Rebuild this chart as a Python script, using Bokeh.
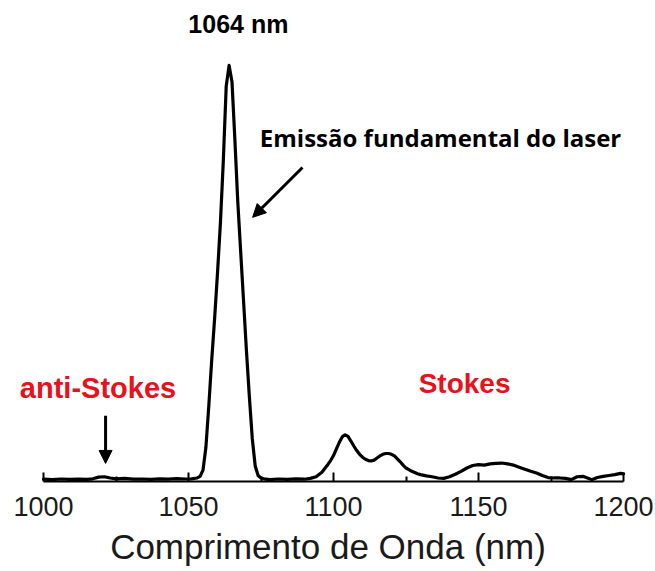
from bokeh.plotting import figure
from bokeh.models import Range1d, Label, Arrow, NormalHead, FixedTicker, ColumnDataSource
from bokeh.embed import file_html
from bokeh.resources import INLINE

# ---- data (arbitrary intensity units, peak = 100) ----
wavelength_nm = [
    1000, 1003, 1006, 1009, 1012, 1015, 1017, 1019, 1021, 1023, 1025, 1028, 1031,
    1034, 1037, 1040, 1043, 1046, 1049, 1051, 1053, 1054, 1055, 1056, 1057, 1058,
    1059, 1060, 1061, 1062, 1063, 1064, 1065, 1066, 1067, 1068, 1069, 1070, 1071,
    1072, 1073, 1074, 1075, 1076, 1078, 1081, 1084, 1087, 1090, 1092, 1094, 1096,
    1098, 1099, 1100, 1101, 1102, 1103, 1104, 1105, 1106, 1107, 1108, 1109, 1110,
    1111, 1112, 1113, 1114, 1115, 1116, 1117, 1118, 1119, 1120, 1121, 1122, 1123,
    1124, 1125, 1126, 1127, 1128, 1129, 1130, 1132, 1134, 1136, 1138, 1140, 1142,
    1144, 1146, 1148, 1150, 1152, 1154, 1156, 1158, 1160, 1162, 1164, 1166, 1168,
    1170, 1172, 1174, 1176, 1178, 1180, 1182, 1184, 1186, 1188, 1189, 1191, 1193,
    1195, 1197, 1199, 1200,
]
intensity = [
    0.3, 0.2, 0.35, 0.25, 0.3, 0.25, 0.4, 0.8, 0.9, 0.6, 0.4, 0.5, 0.3,
    0.35, 0.25, 0.4, 0.3, 0.45, 0.35, 0.4, 0.6, 1.0, 2.5, 8.0, 18.0, 29.0,
    39.0, 50.0, 62.0, 77.0, 95.0, 100.0, 96.0, 82.0, 67.0, 55.0, 43.0, 31.0, 20.0,
    10.0, 3.5, 1.2, 0.6, 0.4, 0.2, 0.35, 0.25, 0.4, 0.3, 0.5, 0.9, 2.0,
    3.8, 4.8, 6.0, 7.6, 9.2, 10.5, 11.0, 10.6, 9.5, 8.3, 7.2, 6.3, 5.6,
    5.1, 4.8, 4.7, 4.9, 5.4, 5.9, 6.3, 6.5, 6.5, 6.3, 5.9, 5.2, 4.5,
    3.7, 3.0, 2.6, 2.2, 1.9, 1.6, 1.4, 1.1, 0.9, 0.6, 0.5, 0.9, 1.5,
    2.2, 3.0, 3.6, 3.8, 3.7, 4.0, 4.1, 4.2, 4.0, 3.7, 3.2, 2.7, 2.2,
    1.8, 1.2, 0.7, 0.6, 0.6, 0.5, 0.2, 0.9, 1.0, 0.5, 0.2, 0.7, 1.0,
    1.2, 1.4, 1.7, 1.6,
]
tick_values = [1000, 1050, 1100, 1150, 1200]
minor_tick_values = [1025, 1075, 1125, 1175]
x_label = "Comprimento de Onda (nm)"
peak_label = "1064 nm"
laser_label = "Emissão fundamental do laser"
anti_label = "anti-Stokes"
stokes_label = "Stokes"

RED = "#e8121c"

p = figure(width=655, height=571, output_backend="svg", toolbar_location=None,
           x_range=Range1d(985.17, 1211.03), y_range=Range1d(-0.25, 115.65),
           min_border_left=0, min_border_right=0, min_border_top=0,
           min_border_bottom=90)
p.outline_line_color = None
p.xgrid.visible = False
p.ygrid.visible = False
p.yaxis.visible = False
p.background_fill_color = "white"
p.border_fill_color = "white"

src = ColumnDataSource(dict(x=wavelength_nm, y=intensity))
p.line("x", "y", source=src, line_color="black", line_width=3.2,
       line_join="round", line_cap="round")

ax = p.xaxis[0]
ax.bounds = (1000, 1200)
ax.ticker = FixedTicker(ticks=tick_values, minor_ticks=minor_tick_values)
ax.axis_line_width = 2
ax.axis_line_color = "black"
ax.major_tick_in = 9
ax.major_tick_out = 0
ax.minor_tick_in = 5
ax.minor_tick_out = 0
ax.major_tick_line_width = 2
ax.minor_tick_line_width = 2
ax.major_tick_line_color = "black"
ax.minor_tick_line_color = "black"
ax.major_label_text_font = "Liberation Sans"
ax.major_label_text_font_size = "27px"
ax.major_label_text_color = "#1a1a1a"
ax.major_label_standoff = 15
ax.axis_label = x_label
ax.axis_label_text_font = "Liberation Sans"
ax.axis_label_text_font_size = "35px"
ax.axis_label_text_font_style = "normal"
ax.axis_label_text_color = "#1a1a1a"
ax.axis_label_standoff = 8

def lab(x, y, text, size, color="black", font="Liberation Sans"):
    p.add_layout(Label(x=x, y=y, text=text, text_align="center",
                       text_baseline="middle", text_font=font,
                       text_font_size=size, text_font_style="bold",
                       text_color=color))

lab(1067.2, 110.0, peak_label, "25px")
lab(1136.9, 82.6, laser_label, "24px", font="Open Sans")
lab(1018.8, 22.2, anti_label, "29px", color=RED)
lab(1145.2, 23.4, stokes_label, "28px", color=RED)

p.add_layout(Arrow(end=NormalHead(size=13, fill_color="black", line_color="black"),
                   x_start=1089.3, y_start=75.4, x_end=1072.1, y_end=63.4,
                   line_width=3, line_color="black"))
p.add_layout(Arrow(end=NormalHead(size=13, fill_color="black", line_color="black"),
                   x_start=1021.4, y_start=15.6, x_end=1021.4, y_end=4.1,
                   line_width=3, line_color="black"))

open("out.html", "w").write(file_html(p, INLINE))
